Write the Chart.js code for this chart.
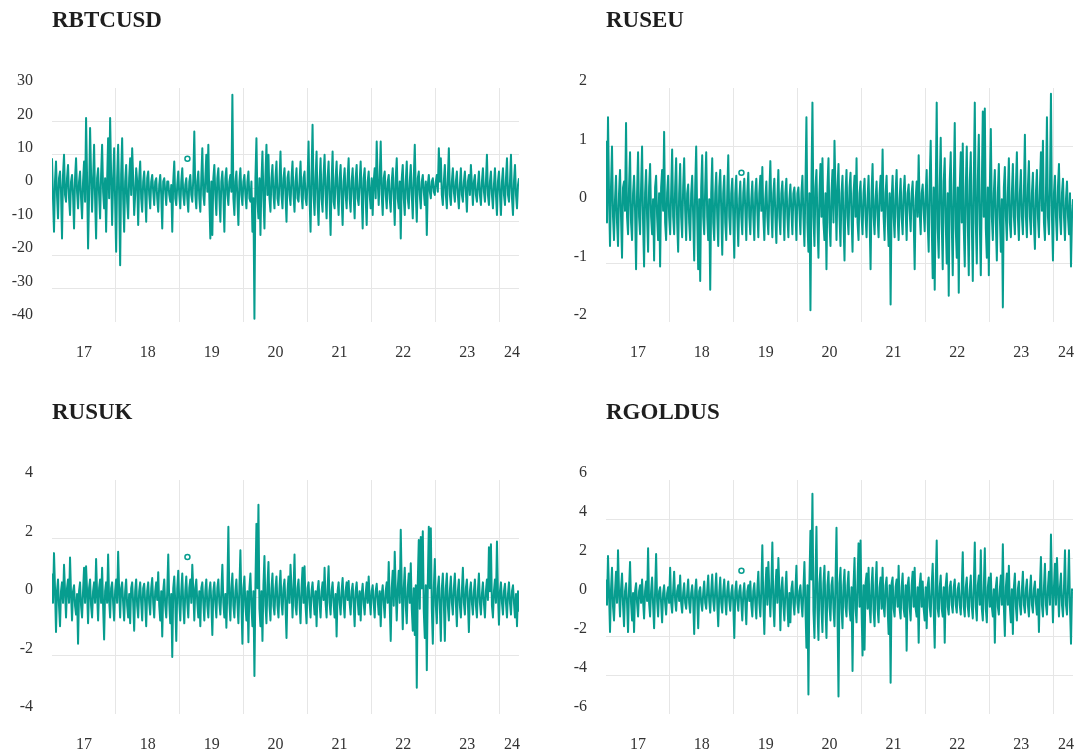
<!DOCTYPE html>
<html>
<head>
<meta charset="utf-8">
<script src="https://cdn.jsdelivr.net/npm/chart.js@4/dist/chart.umd.min.js"></script>
<style>
  html, body { margin: 0; padding: 0; background: #fff; }
  #wrap { position: relative; width: 1079px; height: 754px; overflow: hidden; }
  canvas { position: absolute; }
</style>
</head>
<body>
<div id="wrap">
  <canvas id="btc" width="525" height="361" style="left:0;top:0"></canvas>
  <canvas id="eu" width="525" height="361" style="left:554px;top:0"></canvas>
  <canvas id="uk" width="525" height="361" style="left:0;top:392px"></canvas>
  <canvas id="gold" width="525" height="361" style="left:554px;top:392px"></canvas>
</div>
<script>
// time span of the series (decimal years)
var startYear = 2017.0;
var endYear = 2024.31;

var gridYears = [2018, 2019, 2020, 2021, 2022, 2023, 2024];
var labelYears = [2017.5, 2018.5, 2019.5, 2020.5, 2021.5, 2022.5, 2023.5, 2024.2];
var yearLabels = ["17", "18", "19", "20", "21", "22", "23", "24"];

var titles = ["RBTCUSD", "RUSEU", "RUSUK", "RGOLDUS"];

var btcTicks = [30, 20, 10, 0, -10, -20, -30, -40];
var euTicks = [2, 1, 0, -1, -2];
var ukTicks = [4, 2, 0, -2, -4];
var goldTicks = [6, 4, 2, 0, -2, -4, -6];

// highlighted point (hollow circle)
var markerYear = 2019.12;
var markerValues = [8.8, 0.55, 1.37, 1.35];

var btcValues = [
  9, -3, -13, 2, 8, -2, -9, 3, 5, -1, -15, 4, 10, -2, -4, 3, 7, -3, -8, 2, 4, -2, -12, 3, 9, -1, -6, 2, 5, -3, -9, 2,
  8, -4, 21, 3, -18, -2, 18, 4, -7, 2, 13, -3, -15, 3, 6, -2, -9, 4, 13, -1, -6, 3, -13, 2, 15, -3, 21, 4, -11, 2, 12, -4,
  -19, 3, 13, -2, -23, 4, 15, -3, -13, 2, 7, -4, -9, 3, 9, -2, 12, 3, -8, -2, 6, 2, -11, 3, 8, -3, -7, 2, 5, -2, -10, 3,
  5, -2, -6, 2, 4, -1, -5, 2, 3, -3, -7, 1, 4, -2, -12, 2, 3, -1, -5, 2, 2, -2, -4, 1, -13, 2, 8, -3, -5, 1, 5, -2,
  -6, 2, 6, -2, -5, 1, 3, -3, -7, 2, 4, -2, -4, 3, 17, -2, -6, 2, 5, -3, -7, 3, 12, -2, -5, 3, 10, -1, 13, -3, -15, 2,
  -14, 3, 7, -2, -8, 3, 6, -3, -10, 2, 5, -2, -13, 3, 6, -2, -5, 2, 4, -1, 28, -3, -8, 2, 5, -3, -11, 2, 6, -2, -5, 2,
  4, -2, -6, 2, 5, -3, -4, 2, -13, -3, -39, 3, 15, -4, -9, 3, -14, 2, 11, -3, -12, 4, 13, -2, 10, -3, -7, 3, 7, -2, -6, 3,
  8, -3, -5, 2, 11, -2, -6, 3, 6, -2, -10, 3, 5, -2, -5, 3, 8, -2, -7, 2, 6, -3, -4, 2, 8, -2, -6, 3, 5, -3, -5, 2,
  14, -3, -13, 4, 19, -2, -8, 3, 11, -4, -11, 2, 9, -3, -7, 4, 10, -2, -9, 3, 8, -3, -14, 2, 11, -4, -6, 3, 8, -2, -8, 3,
  7, -3, -11, 2, 6, -2, -6, 3, 9, -3, -7, 2, 6, -2, -9, 3, 7, -3, -5, 2, 8, -2, -12, 3, 6, -3, -11, 2, 5, -2, -6, 3,
  -8, 2, 6, -3, 14, 2, -5, 3, 14, -2, -8, 3, 5, -2, -6, 2, 4, -3, -7, 2, 6, -2, -11, 3, 9, -3, -6, 2, -15, 3, 7, -3,
  -8, 2, 8, -3, -6, 2, 7, -2, -9, 3, 13, -2, -10, 3, 5, -2, -6, 2, 4, -1, -5, 2, -14, 1, 4, -1, -3, 2, 3, -1, -2, 2,
  4, -1, 12, 2, 9, -2, -5, 2, 7, -2, -6, 3, 12, -2, -5, 2, 6, -1, -4, 2, 5, -2, -6, 1, 6, -2, -4, 2, 5, -1, -7, 2,
  4, -2, 7, 1, -5, 2, 4, -2, -4, 1, 5, -2, -5, 2, 6, -1, -4, 2, 10, -2, -5, 2, 5, -2, -6, 1, 6, -2, -8, 2, 5, -2,
  -8, 2, 6, -2, -5, 3, 9, -2, -4, 2, 10, -3, -8, 2, 7, -2, -6, 1, 3
];

var euValues = [
  1.1, -0.3, 1.5, 0.2, -0.7, 0.3, 1.0, -0.2, -0.6, 0.1, 0.5, -0.3, -0.7, 0.2, 0.6, -0.2, -0.9, 0.3, 0.4, -0.1, 1.4, -0.2, -0.5, 0.3, 0.9, -0.3, -0.6, 0.2, 0.5, -0.1, -1.1, 0.2,
  0.9, -0.2, -0.5, 0.3, 1.0, -0.3, -1.05, 0.2, 0.6, -0.2, -0.8, 0.3, 0.7, -0.2, -0.5, 0.1, -0.95, 0.3, 0.5, -0.2, -0.6, 0.2, -1.05, 0.3, 0.6, -0.1, 1.25, -0.3, -0.6, 0.2, 0.5, -0.2,
  -0.5, 0.2, 0.95, -0.2, -0.5, 0.3, 0.8, -0.3, -0.8, 0.2, 0.7, -0.2, -0.55, 0.3, 0.8, -0.1, -0.6, 0.2, 0.35, -0.3, -0.6, 0.2, 0.5, -0.2, -0.95, 0.3, 1.0, -0.2, -1.1, 0.1, -1.3, 0.3,
  0.85, -0.2, -0.5, 0.3, 0.9, -0.2, -0.6, 0.1, -1.45, 0.2, 0.8, -0.3, -0.6, 0.2, 0.55, -0.2, -0.7, 0.3, 0.6, -0.1, -0.85, 0.2, 0.5, -0.3, -0.6, 0.2, 0.85, -0.2, -0.5, 0.2, 0.45, -0.2,
  -0.9, 0.2, 0.5, -0.2, -0.7, 0.1, 0.4, -0.2, -0.5, 0.2, 0.45, -0.1, -0.6, 0.2, 0.55, -0.2, -0.5, 0.1, 0.4, -0.2, -0.6, 0.2, 0.45, -0.1, -0.55, 0.2, 0.5, -0.1, 0.65, -0.2, -0.6, 0.1,
  0.4, -0.2, -0.5, 0.2, 0.75, -0.1, -0.55, 0.2, 0.45, -0.2, -0.65, 0.1, 0.6, -0.2, -0.5, 0.2, 0.4, -0.1, -0.6, 0.2, 0.45, -0.2, -0.55, 0.1, 0.35, -0.1, -0.5, 0.2, 0.3, -0.1, -0.6, 0.2,
  0.3, -0.1, -0.5, 0.2, 0.5, -0.2, -0.7, 0.3, 1.5, -0.3, -0.8, 0.2, -1.8, 0.3, 1.75, -0.2, -0.7, 0.3, 0.6, -0.3, -0.9, 0.2, 0.7, -0.2, 0.8, -0.3, -0.6, 0.2, -1.1, 0.3, 0.8, -0.3,
  -0.7, 0.2, 0.6, -0.3, 1.1, 0.2, -0.6, 0.3, 0.7, -0.2, -0.7, 0.2, 0.5, -0.3, -0.95, 0.2, 0.6, -0.2, -0.5, 0.3, 0.55, -0.2, -0.8, 0.2, 0.5, -0.2, 0.8, -0.3, -0.6, 0.2, 0.4, -0.2,
  -0.5, 0.2, 0.45, -0.2, -0.55, 0.1, 0.5, -0.2, -1.1, 0.2, 0.7, -0.2, -0.5, 0.1, 0.4, -0.2, -0.55, 0.2, 0.5, -0.1, 0.95, -0.2, -0.6, 0.2, 0.5, -0.2, -0.7, 0.2, -1.7, 0.1, 0.5, -0.2,
  -0.55, 0.2, 0.6, -0.2, -0.6, 0.1, 0.45, -0.2, -0.5, 0.2, 0.5, -0.1, -0.6, 0.2, 0.35, -0.1, -0.45, 0.2, 0.4, -0.2, -1.1, 0.1, 0.4, -0.2, 0.85, -0.1, -0.5, 0.2, 0.35, -0.1, -0.45, 0.2,
  0.6, -0.3, -0.8, 0.4, 1.1, -0.3, -1.25, 0.3, -1.45, 0.2, 1.75, -0.4, -0.9, 0.3, 1.15, -0.3, -1.1, 0.4, 0.8, -0.3, -1.0, 0.2, -1.55, 0.4, 0.9, -0.3, -1.2, 0.3, 1.4, -0.4, -0.9, 0.3,
  -1.5, 0.3, 0.9, -0.3, 1.05, -0.4, -1.05, 0.3, 1.0, -0.3, -1.2, 0.4, 0.9, -0.3, -1.3, 0.4, 1.75, -0.3, -1.0, 0.4, 1.2, -0.3, -1.2, 0.3, 1.6, -0.2, 1.65, -0.4, -0.9, 0.3, -1.2, 0.3,
  1.3, -0.2, -0.6, 0.2, 0.6, -0.3, -0.95, 0.2, 0.7, -0.2, -0.8, 0.1, -1.75, 0.3, 0.65, -0.2, -0.6, 0.2, 0.8, -0.3, -0.55, 0.2, 0.7, -0.2, -0.5, 0.3, 0.9, -0.2, -0.6, 0.2, 0.6, -0.2,
  -0.5, 0.2, 1.2, -0.2, -0.55, 0.3, 0.75, -0.2, -0.5, 0.2, 0.55, -0.3, -0.75, 0.2, 0.6, -0.2, -0.55, 0.3, 0.9, -0.1, 1.1, -0.3, -0.6, 0.2, 1.5, -0.2, -0.5, 0.3, 1.9, -0.2, -0.95, 0.2,
  0.5, -0.2, -0.6, 0.3, 0.7, -0.2, -0.5, 0.2, 0.45, -0.2, -0.6, 0.1, 0.4, -0.2, -0.5, 0.2, -1.05, -0.2, 0.1
];

var ukValues = [
  0.8, -0.2, 1.5, 0.3, -1.2, 0.2, 0.6, -0.3, -1.0, 0.2, 0.5, -0.2, 1.1, 0.2, -0.7, 0.3, 0.6, -0.2, 1.35, 0.1, -0.8, 0.2, 0.4, -0.3, -0.6, 0.1, -1.6, 0.2, 0.5, -0.3, -0.7, 0.2,
  1.0, -0.2, 1.05, 0.2, -0.9, 0.3, 0.6, -0.3, -0.7, 0.2, 0.5, -0.2, 1.3, 0.1, -0.8, 0.3, 0.6, -0.2, 1.0, -0.3, -1.45, 0.2, 0.5, -0.2, 1.45, -0.1, -0.7, 0.3, 0.5, -0.2, -0.8, 0.2,
  0.6, -0.2, 1.55, 0.2, -0.7, 0.3, 0.5, -0.2, -0.8, 0.2, 0.6, -0.3, -0.7, 0.1, -0.9, 0.3, 0.5, -0.2, -1.15, 0.2, 0.6, -0.3, -0.7, 0.2, 0.5, -0.2, -0.8, 0.3, 0.45, -0.2, -1.0, 0.2,
  0.5, -0.2, -0.6, 0.3, 0.65, -0.2, -0.7, 0.2, 0.5, -0.1, 0.85, -0.3, -0.8, 0.2, -1.35, 0.2, 0.6, -0.3, -0.7, 0.2, 1.45, -0.2, -0.9, 0.1, -2.05, 0.3, 0.7, -0.2, -1.5, 0.3, 0.9, -0.2,
  -0.8, 0.2, 0.8, -0.3, -0.9, 0.2, 0.7, -0.2, -0.7, 0.3, 0.6, -0.2, 1.1, 0.2, -0.8, 0.3, 0.6, -0.2, -0.7, 0.2, -1.0, 0.3, 0.5, -0.2, -0.8, 0.2, 0.6, -0.3, -0.7, 0.2, 0.5, -0.2,
  -1.3, 0.2, 0.5, -0.2, -0.7, 0.3, 0.6, -0.2, -0.6, 0.2, 1.1, -0.2, -0.7, 0.1, -1.05, 0.3, 2.4, -0.2, -0.8, 0.3, 0.8, -0.3, -0.7, 0.2, 0.6, -0.2, -0.9, 0.3, 1.6, -0.2, -1.6, 0.3,
  0.7, -0.3, -0.8, 0.2, -1.55, 0.3, 0.8, -0.3, -1.0, 0.2, -2.7, 0.4, 2.5, 0.3, 3.15, -0.4, -1.0, 0.2, -1.5, 0.4, 1.4, -0.3, -0.9, 0.4, 1.2, -0.3, -0.8, 0.3, 0.8, -0.3, -0.6, 0.3,
  0.7, -0.3, -0.7, 0.3, 0.9, -0.2, -0.6, 0.3, 0.6, -0.3, -1.4, 0.2, 0.7, -0.2, 1.1, 0.3, -0.7, 0.2, 1.45, -0.3, -0.6, 0.3, 0.6, -0.2, -0.9, 0.3, 1.0, -0.2, 1.05, -0.3, -0.9, 0.3,
  0.5, -0.2, -0.7, 0.2, 0.5, -0.1, -0.6, 0.2, -1.0, 0.2, 0.55, -0.2, -0.7, 0.2, 0.5, -0.1, 1.0, -0.2, -0.7, 0.3, 1.05, -0.2, -0.6, 0.2, 0.5, -0.2, -0.7, 0.1, -1.35, 0.2, 0.5, -0.2,
  -0.6, 0.2, 0.65, -0.2, -0.7, 0.2, 0.5, -0.1, 0.55, -0.2, -0.6, 0.2, 0.45, -0.2, -1.0, 0.2, 0.5, -0.1, -0.6, 0.2, -0.8, 0.1, 0.45, -0.2, -0.6, 0.1, 0.5, -0.2, 0.7, -0.1, -0.6, 0.2,
  0.4, -0.2, -0.7, 0.2, 0.45, -0.1, -0.6, 0.2, -1.0, 0.1, 0.4, -0.2, -0.7, 0.2, 0.5, -0.2, 1.2, -0.3, -1.5, 0.3, 0.9, -0.3, 1.55, 0.2, -0.8, 0.3, 0.9, -0.2, 2.3, 0.3, -1.1, 0.3,
  1.0, -0.3, -0.9, 0.3, 0.8, -0.2, 1.15, -0.4, -1.15, 0.3, -1.3, 0.4, -3.1, 0.5, 1.95, -0.4, 2.05, 0.3, 2.25, -0.5, -1.4, 0.4, -2.5, 0.5, 2.4, 0.3, 2.35, -0.4, -1.6, 0.3, 1.3, -0.3,
  -0.9, 0.3, 0.7, -0.3, -1.5, 0.3, 0.8, -0.2, -1.5, 0.3, 0.8, -0.3, -0.8, 0.2, 0.7, -0.2, -0.6, 0.3, 0.8, -0.2, -1.0, 0.2, 0.6, -0.3, -0.7, 0.2, 1.0, -0.2, -0.6, 0.3, 0.6, -0.2,
  -1.2, 0.2, 0.5, -0.2, -0.6, 0.2, 0.6, -0.3, -0.7, 0.2, 0.8, -0.2, -0.6, 0.1, 0.5, -0.2, -0.7, 0.2, 0.6, -0.1, 1.7, 0.2, 1.8, -0.3, -0.7, 0.2, 0.6, -0.2, 1.9, 0.1, -0.95, 0.2,
  0.5, -0.2, -0.6, 0.2, 0.45, -0.2, -0.7, 0.1, 0.5, -0.2, -0.6, 0.2, 0.4, -0.2, -0.7, 0.1, -1.0, 0.2, -0.5
];

var goldValues = [
  0.9, -0.4, 2.1, 0.3, -1.8, 0.4, 1.5, -0.5, -1.2, 0.3, 1.3, -0.3, 2.4, 0.2, -1.0, 0.4, 1.2, -0.4, -1.5, 0.3, 0.7, -0.3, -1.8, 0.4, 1.8, -0.3, -1.2, 0.2, -1.8, 0.3, 0.7, -0.3,
  -1.0, 0.3, 0.6, -0.3, 0.9, -0.2, -1.1, 0.3, 0.8, -0.2, 2.5, -0.3, -1.0, 0.3, 1.0, -0.4, -1.6, 0.3, 2.2, -0.2, -1.0, 0.3, 0.5, -0.3, -1.3, 0.2, 0.6, -0.3, -0.9, 0.2, 0.5, -0.3,
  1.5, -0.3, -0.8, 0.3, 1.3, -0.2, -0.7, 0.3, 0.6, -0.2, 1.1, -0.3, -0.8, 0.2, 0.7, -0.3, -0.6, 0.2, 0.9, -0.3, -0.8, 0.2, 0.6, -0.2, -1.9, 0.3, 0.9, -0.2, -1.6, 0.3, 0.5, -0.3,
  -0.7, 0.2, 0.8, -0.3, -0.6, 0.3, 1.1, -0.2, -0.8, 0.3, 1.15, -0.2, -0.7, 0.3, 1.2, -0.3, -1.5, 0.2, 1.0, -0.3, -0.8, 0.3, 0.9, -0.2, -0.9, 0.3, 0.8, -0.2, -0.7, 0.2, 0.6, -0.3,
  -2.1, 0.3, 0.8, -0.2, -0.7, 0.3, 0.6, -0.3, -1.2, 0.2, 0.7, -0.3, -1.4, 0.3, 0.6, -0.2, 0.8, -0.4, -1.0, 0.3, 0.7, -0.3, -1.1, 0.4, 1.3, -0.3, -1.0, 0.4, 2.65, -0.3, -1.9, 0.4,
  1.5, -0.4, 1.8, 0.3, -1.0, 0.5, 2.8, -0.4, -1.5, 0.4, 1.4, -0.3, 2.0, 0.4, -1.7, 0.3, 1.0, -0.4, -1.2, 0.3, 1.3, -0.4, -1.5, 0.2, -1.3, 0.4, 0.8, -0.3, -0.9, 0.3, 1.6, -0.3,
  -0.8, 0.3, 0.6, -0.3, -1.0, 0.4, 1.8, -0.5, -2.6, 0.6, -5.0, 0.8, 3.4, 0.9, 5.3, -0.7, -2.1, 0.8, 3.6, -0.6, -2.2, 0.7, 1.5, -0.6, -1.8, 0.7, 1.6, -0.6, -2.1, 0.6, 1.3, -0.5,
  -1.2, 0.6, 1.0, -0.6, -1.5, 0.7, 3.55, -0.8, -5.1, 0.7, 1.5, -0.6, -1.6, 0.6, 1.4, -0.5, -1.0, 0.6, 1.3, -0.6, -1.2, 0.5, -3.8, 0.6, 2.0, -0.6, -1.3, 0.7, 2.75, -0.5, 2.9, -0.6,
  -3.0, 0.6, -2.7, 0.7, 1.2, -0.6, 1.5, -0.5, -1.3, 0.6, 1.5, -0.7, -1.5, 0.6, 1.8, -0.6, -1.3, 0.5, 1.0, -0.6, 1.5, -0.5, -1.0, 0.6, 1.0, -0.5, -1.9, 0.6, -4.4, 0.7, 1.0, -0.6,
  -1.0, 0.5, 0.9, -0.5, 1.6, -0.6, -1.1, 0.5, 1.2, -0.6, -1.0, 0.6, -2.75, 0.6, 1.0, -0.5, -1.2, 0.6, 1.3, -0.5, 1.5, -0.6, -1.0, 0.5, -2.35, 0.6, 1.2, -0.5, 0.8, -0.6, -1.2, 0.5,
  -1.6, 0.6, 1.0, -0.5, -1.0, 0.6, 1.7, -0.6, -2.6, 0.7, 2.9, -0.6, -1.0, 0.5, 1.1, -0.6, -1.0, 0.5, -2.35, 0.6, 1.2, -0.5, -0.9, 0.5, 0.8, -0.4, -0.8, 0.5, 0.9, -0.4, -0.8, 0.4,
  0.7, -0.4, -0.9, 0.5, 2.3, -0.5, -1.0, 0.5, 1.0, -0.5, -1.0, 0.4, 1.1, -0.5, -1.1, 0.5, 2.8, -0.5, -1.2, 0.6, 1.1, -0.4, 2.4, -0.6, -1.2, 0.5, 2.5, -0.6, -1.3, 0.5, 1.0, -0.5,
  1.2, -0.5, -1.0, 0.4, -2.35, 0.5, 1.0, -0.5, -0.9, 0.4, 1.1, -0.4, 2.7, -0.5, -2.0, 0.5, 1.2, -0.4, 1.6, -0.5, -1.3, 0.4, -1.9, 0.5, 1.2, -0.5, -1.2, 0.4, 0.8, -0.4, -0.9, 0.4,
  1.3, -0.4, -0.8, 0.4, 0.9, -0.4, -1.0, 0.3, 1.1, -0.4, -0.8, 0.4, 0.8, -0.3, -0.9, 0.4, -1.8, 0.5, 2.05, -0.4, -1.0, 0.5, 1.7, -0.4, -0.9, 0.5, 1.3, -0.4, 3.2, 0.5, -1.3, 0.5,
  1.7, -0.4, 2.0, 0.4, -1.0, 0.5, 1.2, -0.4, -1.0, 0.5, 2.4, -0.4, -0.9, 0.5, 2.4, -0.5, -2.4, 0.4, 0.3
];

var TEAL = "#079d8f";
var GRID = "#e6e6e6";
var TICK_COLOR = "#333333";
var FONT = "'Liberation Serif', 'Times New Roman', serif";

var panelTitle = {
    id: "panelTitle",
    afterDraw: function (chart, args, opts) {
        var ctx = chart.ctx;
        ctx.save();
        ctx.font = "bold 23px " + FONT;
        ctx.fillStyle = "#1e1e1e";
        ctx.textAlign = "left";
        ctx.textBaseline = "alphabetic";
        ctx.fillText(opts.text, chart.chartArea.left, 27);
        ctx.restore();
    }
};

function noPadding(s) {
    s.paddingLeft = 0;
    s.paddingRight = 0;
    s.paddingTop = 0;
    s.paddingBottom = 0;
}

function toPoints(values) {
    var step = (endYear - startYear) / (values.length - 1);
    var pts = [];
    for (var i = 0; i < values.length; i++) {
        pts.push({ x: startYear + i * step, y: values[i] });
    }
    return pts;
}

function makePanel(id, title, values, yTicks, markerValue) {
    var yMax = yTicks[0];
    var yMin = yTicks[yTicks.length - 1];
    var ctx = document.getElementById(id).getContext("2d");
    new Chart(ctx, {
        type: "line",
        data: {
            datasets: [{
                data: toPoints(values),
                borderColor: TEAL,
                borderWidth: 2,
                borderJoinStyle: "round",
                pointRadius: 0,
                tension: 0,
                xAxisID: "x",
                yAxisID: "y"
            }, {
                type: "scatter",
                data: [{ x: markerYear, y: markerValue }],
                pointRadius: 2.5,
                borderColor: TEAL,
                backgroundColor: "#ffffff",
                borderWidth: 1.5,
                xAxisID: "x",
                yAxisID: "y"
            }]
        },
        options: {
            responsive: false,
            animation: false,
            layout: { padding: { top: 88, right: 6, left: 0, bottom: 0 } },
            plugins: {
                legend: { display: false },
                tooltip: { enabled: false },
                panelTitle: { text: title }
            },
            scales: {
                x: {
                    type: "linear",
                    position: "bottom",
                    min: startYear,
                    max: endYear,
                    afterBuildTicks: function (s) {
                        s.ticks = gridYears.map(function (v) { return { value: v }; });
                    },
                    ticks: { display: false },
                    grid: { color: GRID, lineWidth: 1, drawTicks: false },
                    border: { display: false },
                    afterFit: function (s) { s.height = 0; noPadding(s); }
                },
                xl: {
                    type: "linear",
                    position: "bottom",
                    min: startYear,
                    max: endYear,
                    afterBuildTicks: function (s) {
                        s.ticks = labelYears.map(function (v) { return { value: v }; });
                    },
                    ticks: {
                        autoSkip: false,
                        maxRotation: 0,
                        padding: 13,
                        color: TICK_COLOR,
                        font: { family: FONT, size: 16 },
                        callback: function (v, i) { return yearLabels[i]; }
                    },
                    grid: { display: false },
                    border: { display: false },
                    afterFit: function (s) { s.height = 39; noPadding(s); }
                },
                y: {
                    type: "linear",
                    min: yMin,
                    max: yMax,
                    afterBuildTicks: function (s) {
                        s.ticks = yTicks.map(function (v) { return { value: v }; });
                    },
                    ticks: {
                        padding: 19,
                        labelOffset: -7,
                        color: TICK_COLOR,
                        font: { family: FONT, size: 16 }
                    },
                    grid: {
                        drawTicks: false,
                        lineWidth: 1,
                        color: function (c) {
                            if (c.tick && (c.tick.value === yMin || c.tick.value === yMax)) {
                                return "rgba(0,0,0,0)";
                            }
                            return GRID;
                        }
                    },
                    border: { display: false },
                    afterFit: function (s) { s.width = 52; noPadding(s); }
                }
            }
        },
        plugins: [panelTitle]
    });
}

makePanel("btc", titles[0], btcValues, btcTicks, markerValues[0]);
makePanel("eu", titles[1], euValues, euTicks, markerValues[1]);
makePanel("uk", titles[2], ukValues, ukTicks, markerValues[2]);
makePanel("gold", titles[3], goldValues, goldTicks, markerValues[3]);
</script>
</body>
</html>
